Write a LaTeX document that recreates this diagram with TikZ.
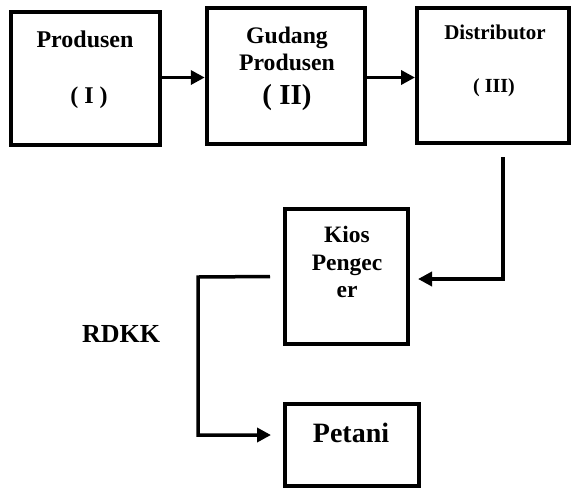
\documentclass[tikz,border=0pt]{standalone}
\usepackage{fontspec}
\setmainfont{Liberation Serif}
\usetikzlibrary{arrows.meta}
\begin{document}
\begin{tikzpicture}[x=1pt,y=-1pt,
  boxnode/.style={draw,line width=4pt,rectangle,inner sep=0pt},
  lbl/.style={anchor=base,inner sep=0pt,font=\bfseries},
  conn/.style={line width=3.5pt},
  arr/.style={line width=3.5pt,-{Triangle[length=14pt,width=14pt]}}]
\useasboundingbox (0,0) rectangle (572,488);
% boxes
\node[boxnode,minimum width=148.7pt,minimum height=133pt] (b1) at (85.7,78.5) {};
\node[boxnode,minimum width=158.5pt,minimum height=136.5pt] (b2) at (286,76) {};
\node[boxnode,minimum width=152pt,minimum height=135pt] (b3) at (493,75.5) {};
\node[boxnode,minimum width=123pt,minimum height=135pt] (k) at (346.5,276.5) {};
\node[boxnode,minimum width=134pt,minimum height=82pt] (p) at (352,445) {};
% texts
\node[lbl,font=\bfseries\fontsize{24}{24}\selectfont] (t1a) at (85,47) {Produsen};
\node[lbl,font=\bfseries\fontsize{24}{24}\selectfont] (t1b) at (89,103) {( I )};
\node[lbl,font=\bfseries\fontsize{23.7}{24}\selectfont] (t2a) at (287,43) {Gudang};
\node[lbl,font=\bfseries\fontsize{23.7}{24}\selectfont] (t2b) at (287,70) {Produsen};
\node[lbl,font=\bfseries\fontsize{29}{29}\selectfont] (t2c) at (287,104) {( II)};
\node[lbl,font=\bfseries\fontsize{21}{21}\selectfont] (t3a) at (495,39) {Distributor};
\node[lbl,font=\bfseries\fontsize{20}{20}\selectfont] (t3b) at (494,92) {( III)};
\node[lbl,font=\bfseries\fontsize{23.5}{24}\selectfont] (tka) at (347,242) {Kios};
\node[lbl,font=\bfseries\fontsize{23.5}{24}\selectfont] (tkb) at (347,270) {Pengec};
\node[lbl,font=\bfseries\fontsize{23.5}{24}\selectfont] (tkc) at (347,297) {er};
\node[lbl,font=\bfseries\fontsize{28}{28}\selectfont] (tp) at (351,442) {Petani};
\node[lbl,font=\bfseries\fontsize{26}{26}\selectfont] (tr) at (121,342) {RDKK};
% connectors
\draw[arr] ([yshift=1pt]b1.east) -- ([yshift=1pt]b1.east -| b2.west);
\draw[arr] ([yshift=-1.5pt]b2.east) -- ([yshift=-1.5pt]b2.east -| b3.west);
\coordinate (c1) at (503,157);
\draw[arr,shorten >=8pt] (c1) |- ([yshift=-2.5pt]k.east);
\coordinate (c3) at (198,277);
\draw[arr,shorten >=12pt] ([xshift=-13pt]k.west) -- (c3) |- ([yshift=10pt]p.west);
\end{tikzpicture}
\end{document}
